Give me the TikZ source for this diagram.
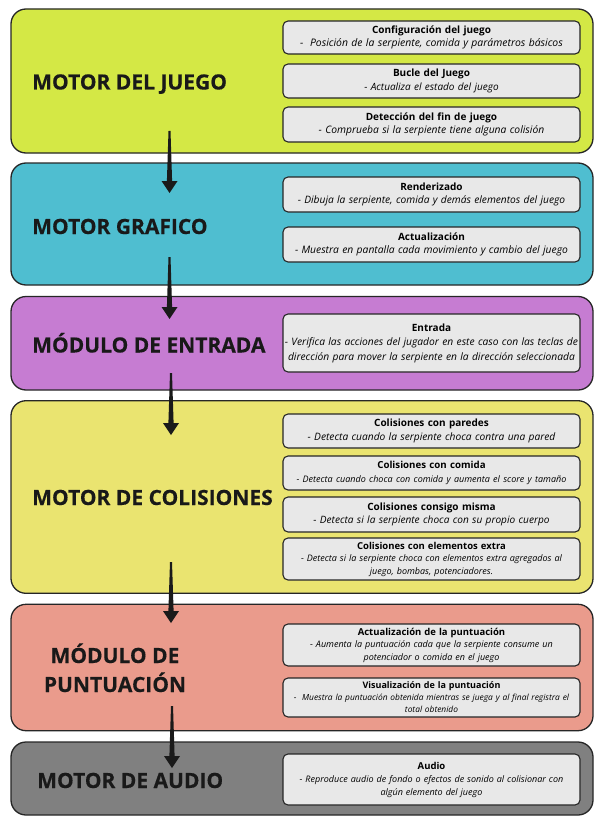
\documentclass[tikz,border=0pt]{standalone}
\usepackage{fontspec}
\setmainfont{Open Sans}
\newfontfamily\heavyfont{Open Sans}[BoldFeatures={FakeBold=0.35}]
\usetikzlibrary{calc}
\definecolor{cA}{HTML}{D4E845}
\definecolor{cB}{HTML}{4FBED0}
\definecolor{cC}{HTML}{C67CD2}
\definecolor{cD}{HTML}{EAE470}
\definecolor{cE}{HTML}{EA9B8C}
\definecolor{cF}{HTML}{808080}
\definecolor{subfill}{HTML}{E8E8E8}
\definecolor{edge}{HTML}{262626}
\definecolor{arrowc}{HTML}{1A1A1A}
\newcommand{\hd}[2][10]{{\fontsize{#1}{13}\selectfont\bfseries #2}}
\newcommand{\ds}[2][10.2]{{\fontsize{#1}{13}\selectfont\itshape #2}}
\begin{document}
\begin{tikzpicture}[x=1pt,y=-1pt,
  bigbox/.style={draw=edge, line width=1.3pt, rounded corners=15pt, inner sep=0pt, minimum width=582pt},
  subbox/.style={draw=edge, fill=subfill, line width=1.1pt, rounded corners=5pt, minimum width=297pt, text width=295pt, inner sep=0.5pt, align=center, font=\fontsize{10}{13.5}\selectfont},
  bigtitle/.style={font=\fontsize{21}{25}\selectfont\heavyfont\bfseries, anchor=base west, inner sep=0pt, text=black!90},
  taper/.style={fill=arrowc, to path={let \p1=(\tikztostart), \p2=(\tikztotarget) in
     (\x1-1pt,\y1) -- (\x1+1pt,\y1) -- (\x2+2.6pt,\y2+12pt) -- (\x2+8pt,\y2+12pt) -- (\p2)
     -- (\x2-8pt,\y2+12pt) -- (\x2-2.6pt,\y2+12pt) -- cycle}}]
\useasboundingbox (0,0) rectangle (599,824);

% big boxes
\node[bigbox, fill=cA, minimum height=144pt]  (b1) at (302,81) {};
\node[bigbox, fill=cB, minimum height=122pt]  (b2) at (302,224) {};
\node[bigbox, fill=cC, minimum height=93.5pt] (b3) at (302,343.25) {};
\node[bigbox, fill=cD, minimum height=192.6pt](b4) at (302,497) {};
\node[bigbox, fill=cE, minimum height=126.4pt](b5) at (302,667.5) {};
\node[bigbox, fill=cF, minimum height=73pt]   (b6) at (302,778.5) {};

% titles
\node[bigtitle] (t1) at (32,89.5) {MOTOR DEL JUEGO};
\node[bigtitle] (t2) at (32,234) {MOTOR GRAFICO};
\node[bigtitle] (t3) at (32,352.5) {MÓDULO DE ENTRADA};
\node[bigtitle] (t4) at (32,505) {MOTOR DE COLISIONES};
\node[bigtitle, anchor=base] (t5a) at (115,663) {MÓDULO DE};
\node[bigtitle, anchor=base] (t5b) at (115,692) {PUNTUACIÓN};
\node[bigtitle] (t6) at (37,788) {MOTOR DE AUDIO};

% sub boxes
\node[subbox, minimum height=33pt] (s11) at (431.5,37.5) {\hd{Configuración del juego}\\\ds[10.4]{-\ \ Posición de la serpiente, comida y parámetros básicos}};
\node[subbox, minimum height=34pt] (s12) at (431.5,81) {\hd{Bucle del Juego}\\\ds[10]{- Actualiza el estado del juego}};
\node[subbox, minimum height=35pt] (s13) at (431.5,124.5) {\hd{Detección del fin de juego}\\\ds[10.3]{- Comprueba si la serpiente tiene alguna colisión}};

\node[subbox, minimum height=35pt] (s21) at (431.5,194.5) {\hd{Renderizado}\\\ds[10.2]{- Dibuja la serpiente, comida y demás elementos del juego}};
\node[subbox, minimum height=35pt] (s22) at (431.5,244.5) {\hd{Actualización}\\\ds[10.3]{- Muestra en pantalla cada movimiento y cambio del juego}};

\node[subbox, minimum height=58pt, font=\fontsize{10}{14.5}\selectfont] (s31) at (431.5,343) {\hd{Entrada}\\\ds[10.25]{- Verifica las acciones del jugador en este caso con las teclas de}\\\ds[10.25]{dirección para mover la serpiente en la dirección seleccionada}};

\node[subbox, minimum height=34pt] (s41) at (431.5,431) {\hd{Colisiones con paredes}\\\ds[10.2]{- Detecta cuando la serpiente choca contra una pared}};
\node[subbox, minimum height=34pt] (s42) at (431.5,473) {\hd[9.7]{Colisiones con comida}\\\ds[9]{- Detecta cuando choca con comida y aumenta el score y tamaño}};
\node[subbox, minimum height=35pt] (s43) at (431.5,514.5) {\hd{Colisiones consigo misma}\\\ds[10.1]{- Detecta si la serpiente choca con su propio cuerpo}};
\node[subbox, minimum height=42pt, font=\fontsize{9}{12.5}\selectfont] (s44) at (431.5,559) {\hd[9.5]{Colisiones con elementos extra}\\\ds[9]{- Detecta si la serpiente choca con elementos extra agregados al}\\\ds[9]{juego, bombas, potenciadores.}};

\node[subbox, minimum height=42pt, font=\fontsize{9}{12.5}\selectfont] (s51) at (431.5,645) {\hd[9.5]{Actualización de la puntuación}\\\ds[9]{- Aumenta la puntuación cada que la serpiente consume un}\\\ds[9]{potenciador o comida en el juego}};
\node[subbox, minimum height=39pt, font=\fontsize{8.5}{12}\selectfont] (s52) at (431.5,697.5) {\hd[9]{Visualización de la puntuación}\\\ds[8.4]{-\ \ Muestra la puntuación obtenida mientras se juega y al final registra el}\\\ds[8.4]{total obtenido}};

\node[subbox, minimum height=51pt, font=\fontsize{9}{13}\selectfont] (s61) at (431.5,779.5) {\hd[9.5]{Audio}\\\ds[9]{- Reproduce audio de fondo o efectos de sonido al colisionar con}\\\ds[9]{algún elemento del juego}};

% arrows
\coordinate (a1s) at (169.5,131); \coordinate (a1e) at (169.5,193);
\coordinate (a2s) at (169.5,257); \coordinate (a2e) at (169.5,319);
\coordinate (a3s) at (171,373);   \coordinate (a3e) at (171,435);
\coordinate (a4s) at (171,562);   \coordinate (a4e) at (171,623);
\coordinate (a5s) at (172,706);   \coordinate (a5e) at (172,768);
\fill[taper] (a1s) to (a1e);
\fill[taper] (a2s) to (a2e);
\fill[taper] (a3s) to (a3e);
\fill[taper] (a4s) to (a4e);
\fill[taper] (a5s) to (a5e);
\end{tikzpicture}
\end{document}
